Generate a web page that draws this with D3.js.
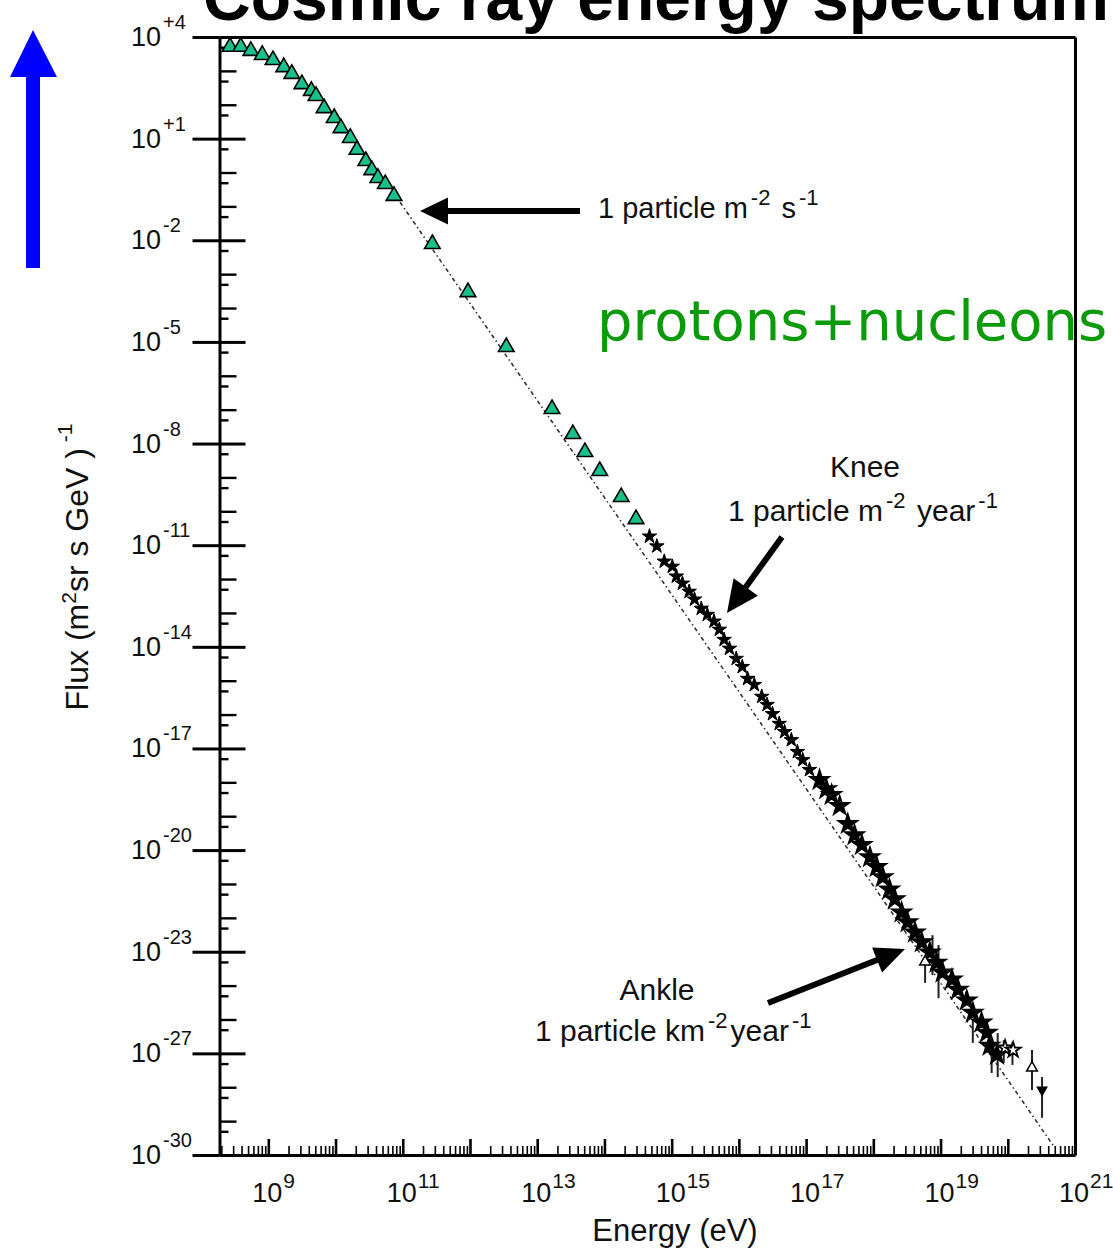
<!DOCTYPE html>
<html>
<head>
<meta charset="utf-8">
<title>Cosmic ray energy spectrum</title>
<script src="https://cdn.jsdelivr.net/npm/d3@7"></script>
<style>
  body { margin: 0; background: #fff; }
  svg { display: block; }
  text { font-family: "Liberation Sans", Arial, sans-serif; fill: #111; }
</style>
</head>
<body>
<div id="chart"></div>
<script>
// all values are log10: energy in eV, flux in (m^2 sr s GeV)^-1

// direct measurements (green triangles)
var triLogE = [8.43, 8.59, 8.74, 8.91, 9.07, 9.23, 9.35, 9.50, 9.64, 9.71,
               9.83, 9.98, 10.08, 10.22, 10.32, 10.45, 10.54, 10.63, 10.74, 10.87,
               11.44, 11.97, 12.54, 13.22, 13.53, 13.71, 13.93, 14.25, 14.47];
var triLogFlux = [3.71, 3.71, 3.59, 3.47, 3.32, 3.11, 2.91, 2.61, 2.41, 2.26,
                  1.90, 1.61, 1.31, 1.02, 0.67, 0.34, 0.07, -0.16, -0.34, -0.69,
                  -2.11, -3.53, -5.15, -6.98, -7.72, -8.25, -8.81, -9.58, -10.23];

// air shower data (black stars)
var starLogE = [14.67, 14.78, 14.89, 15.01, 15.07, 15.16, 15.26, 15.34, 15.44, 15.53,
                15.63, 15.71, 15.78, 15.86, 15.96, 16.05, 16.13, 16.23, 16.34, 16.42,
                16.50, 16.60, 16.68, 16.78, 16.87, 16.95, 17.05, 17.20, 17.30, 17.38,
                17.50, 17.62, 17.72, 17.83, 17.95, 18.05, 18.14, 18.24, 18.32, 18.42,
                18.51, 18.62, 18.72, 18.84, 18.94, 19.03, 19.17, 19.26, 19.39, 19.48,
                19.61, 19.69, 19.73, 19.84];
var starLogFlux = [-10.74, -11.03, -11.48, -11.63, -11.92, -12.13, -12.37, -12.60, -12.87, -13.05,
                   -13.25, -13.49, -13.79, -14.05, -14.35, -14.59, -14.94, -15.12, -15.47, -15.71,
                   -15.98, -16.27, -16.51, -16.75, -17.10, -17.34, -17.63, -17.93, -18.20, -18.37,
                   -18.70, -19.23, -19.56, -19.85, -20.21, -20.50, -20.80, -21.16, -21.45, -21.84,
                   -22.13, -22.43, -22.72, -23.02, -23.32, -23.61, -23.82, -24.12, -24.44, -24.80,
                   -25.09, -25.39, -25.77, -26.04];

var openStarLogE = [19.96, 20.08];
var openStarLogFlux = [-25.84, -25.90];
var openTriLogE = [18.77, 20.36];
var openTriLogFlux = [-23.30, -26.43];
var downTriLogE = [20.51];
var downTriLogFlux = [-27.08];

var errLogE = [18.77, 18.88, 18.97, 19.48, 19.76, 19.85, 19.94, 20.07, 20.36, 20.51];
var errHi = [-23.30, -22.51, -22.80, -25.02, -25.69, -25.40, -25.61, -25.66, -25.90, -26.70];
var errLo = [-23.92, -23.69, -24.37, -25.69, -26.58, -26.70, -26.28, -26.34, -27.08, -27.90];

// dotted power law
var fitLogE = [10.96, 20.70];
var fitLogFlux = [-0.88, -28.79];

// axis ticks
var xLabelDecades = [9, 11, 13, 15, 17, 19, 21];
var xLabels = ["9", "11", "13", "15", "17", "19", "21"];
var yMajor = [4, 1, -2, -5, -8, -11, -14, -17, -20, -23, -26, -29];
var yLabels = ["+4", "+1", "-2", "-5", "-8", "-11", "-14", "-17", "-20", "-23", "-27", "-30"];


var svg = d3.select("#chart").append("svg")
    .attr("width", 1113)
    .attr("height", 1251);

var x = d3.scaleLinear().domain([8.274, 21]).range([219.5, 1075]);
var y = d3.scaleLinear().domain([4, -29]).range([37, 1155]);

// title, cut by the top of the slide
svg.append("text")
    .attr("x", 203).attr("y", 20)
    .style("font-weight", "bold").style("font-size", "66px").style("fill", "#000")
    .text("Cosmic ray energy spectrum");

// big blue arrow on the left
svg.append("path")
    .attr("d", "M26,268L40,268L40,77L57,77L33,30L10,77L26,77Z")
    .attr("fill", "#0000ff");

// ---- axes ----
var xMajor = d3.range(9, 22);
var xMinor = [];
d3.range(8, 21).forEach(function(d) {
    for (var k = 2; k <= 9; k++) {
        var v = d + Math.log10(k);
        if (v > 8.274 && v < 21) xMinor.push(v);
    }
});
var yDecade = d3.range(-29, 5).filter(function(d) { return yMajor.indexOf(d) < 0; });
var yHalf = d3.range(-28, 5).map(function(d) { return d + Math.log10(5) - 1; });

var styleAxis = function(g, w, keepDomain) {
    g.selectAll("line").attr("stroke", "#000").attr("stroke-width", w);
    g.selectAll("text").remove();
    if (keepDomain) g.select(".domain").attr("stroke", "#000").attr("stroke-width", 3);
    else g.select(".domain").remove();
};

var gx = svg.append("g").attr("transform", "translate(0,1155)");
gx.append("g")
    .call(d3.axisBottom(x).tickValues(xMinor).tickSize(-9).tickSizeOuter(0))
    .call(styleAxis, 1.6, false);
gx.append("g")
    .call(d3.axisBottom(x).tickValues(xMajor).tickSize(-16).tickSizeOuter(0))
    .call(styleAxis, 2.6, true);

var gy = svg.append("g").attr("transform", "translate(219.5,0)");
gy.append("g")
    .call(d3.axisRight(y).tickValues(yHalf).tickSize(9).tickSizeOuter(0))
    .call(styleAxis, 2.4, false);
gy.append("g")
    .call(d3.axisRight(y).tickValues(yDecade).tickSize(17).tickSizeOuter(0))
    .call(styleAxis, 2.4, false);
gy.append("g")
    .call(d3.axisRight(y).tickValues(yMajor).tickSize(26).tickSizeOuter(0))
    .call(styleAxis, 3, false);
gy.append("g")
    .call(d3.axisLeft(y).tickValues(yMajor).tickSize(27).tickSizeOuter(0))
    .call(styleAxis, 3, true);

// top and right frame
svg.append("g").attr("transform", "translate(0,37)")
    .call(d3.axisTop(x).tickValues([]).tickSizeOuter(0))
    .call(styleAxis, 1, true);
svg.append("g").attr("transform", "translate(1075,0)")
    .call(d3.axisRight(y).tickValues([]).tickSizeOuter(0))
    .call(styleAxis, 1, true);

// tick labels with superscripts
yMajor.forEach(function(v, i) {
    var t = svg.append("text").attr("x", 131).attr("y", y(v) + 9).style("font-size", "27px");
    t.append("tspan").text("10");
    t.append("tspan").attr("dx", 2).attr("dy", -17).style("font-size", "20px").text(yLabels[i]);
});
xLabelDecades.forEach(function(v, i) {
    var t = svg.append("text").attr("x", x(v) - 16).attr("y", 1202).style("font-size", "27px");
    t.append("tspan").text("10");
    t.append("tspan").attr("dx", 1).attr("dy", -14).style("font-size", "21px").text(xLabels[i]);
});

// axis titles
var yt = svg.append("text")
    .attr("transform", "translate(88,567) rotate(-90)")
    .attr("text-anchor", "middle")
    .style("font-size", "32px");
yt.append("tspan").text("Flux (m");
yt.append("tspan").attr("dy", -12).style("font-size", "21px").text("2");
yt.append("tspan").attr("dy", 12).text("sr s GeV )");
yt.append("tspan").attr("dy", -16).style("font-size", "21px").text(" -1");

svg.append("text")
    .attr("x", 675).attr("y", 1241)
    .attr("text-anchor", "middle")
    .style("font-size", "31px")
    .text("Energy (eV)");

// ---- data ----
var pairs = function(es, fs) {
    return es.map(function(e, i) { return {e: e, f: fs[i]}; });
};
var at = function(d) { return "translate(" + x(d.e) + "," + y(d.f) + ")"; };

var line = d3.line().x(function(d) { return x(d.e); }).y(function(d) { return y(d.f); });
svg.append("path")
    .datum(pairs(fitLogE, fitLogFlux))
    .attr("d", line)
    .attr("fill", "none")
    .attr("stroke", "#333")
    .attr("stroke-width", 1.6)
    .attr("stroke-dasharray", "4,3,1.5,3");

svg.selectAll(".err")
    .data(errLogE.map(function(e, i) { return {e: e, hi: errHi[i], lo: errLo[i]}; }))
    .enter()
    .append("line")
    .attr("class", "err")
    .attr("x1", function(d) { return x(d.e); })
    .attr("x2", function(d) { return x(d.e); })
    .attr("y1", function(d) { return y(d.hi); })
    .attr("y2", function(d) { return y(d.lo); })
    .attr("stroke", "#222")
    .attr("stroke-width", 2);

svg.selectAll(".star")
    .data(pairs(starLogE, starLogFlux))
    .enter()
    .append("path")
    .attr("class", "star")
    .attr("transform", at)
    .attr("d", function(d) { return d3.symbol().type(d3.symbolStar).size(d.e > 17.1 ? 85 : 65)(); })
    .attr("fill", "#000")
    .attr("stroke", "#000")
    .attr("stroke-width", function(d) { return d.e > 17.1 ? 2.5 : 1; });

svg.selectAll(".ostar")
    .data(pairs(openStarLogE, openStarLogFlux))
    .enter()
    .append("path")
    .attr("class", "ostar")
    .attr("transform", at)
    .attr("d", d3.symbol().type(d3.symbolStar).size(70))
    .attr("fill", "#fff")
    .attr("stroke", "#000")
    .attr("stroke-width", 1.8);

svg.selectAll(".otri")
    .data(pairs(openTriLogE, openTriLogFlux))
    .enter()
    .append("path")
    .attr("class", "otri")
    .attr("transform", at)
    .attr("d", d3.symbol().type(d3.symbolTriangle).size(50))
    .attr("fill", "#fff")
    .attr("stroke", "#000")
    .attr("stroke-width", 1.5);

svg.selectAll(".dtri")
    .data(pairs(downTriLogE, downTriLogFlux))
    .enter()
    .append("path")
    .attr("class", "dtri")
    .attr("transform", function(d) { return at(d) + " rotate(180)"; })
    .attr("d", d3.symbol().type(d3.symbolTriangle).size(60))
    .attr("fill", "#000");

svg.selectAll(".tri")
    .data(pairs(triLogE, triLogFlux))
    .enter()
    .append("path")
    .attr("class", "tri")
    .attr("transform", at)
    .attr("d", d3.symbol().type(d3.symbolTriangle).size(105))
    .attr("fill", "#19c08c")
    .attr("stroke", "#000")
    .attr("stroke-width", 1.6);

// ---- annotations ----
var arrow = function(from, to, headLen, headW) {
    var x0 = x(from[0]), y0 = y(from[1]), x1 = x(to[0]), y1 = y(to[1]);
    var len = Math.hypot(x1 - x0, y1 - y0);
    var ux = (x1 - x0) / len, uy = (y1 - y0) / len;
    var bx = x1 - ux * headLen, by = y1 - uy * headLen;
    svg.append("line")
        .attr("x1", x0).attr("y1", y0).attr("x2", bx + ux * 2).attr("y2", by + uy * 2)
        .attr("stroke", "#000").attr("stroke-width", 6);
    svg.append("path")
        .attr("d", "M" + x1 + "," + y1 +
            "L" + (bx - uy * headW / 2) + "," + (by + ux * headW / 2) +
            "L" + (bx + uy * headW / 2) + "," + (by - ux * headW / 2) + "Z")
        .attr("fill", "#000");
};

// parts: [text, isSuperscript]
var note = function(pos, anchor, size, parts) {
    var t = svg.append("text")
        .attr("x", x(pos[0])).attr("y", y(pos[1]))
        .attr("text-anchor", anchor)
        .style("font-size", size + "px");
    var up = false;
    parts.forEach(function(p) {
        var s = t.append("tspan").text(p[0]);
        if (p[1]) {
            s.attr("dx", 3).style("font-size", "22px");
            if (!up) s.attr("dy", -13);
            up = true;
        } else if (up) {
            s.attr("dx", 3).attr("dy", 13);
            up = false;
        }
    });
};

arrow([13.637, -1.136], [11.257, -1.136], 28, 27);
note([13.904, -1.343], "start", 29, [["1 particle m", 0], ["-2", 1], [" s", 0], ["-1", 1]]);

arrow([16.641, -10.758], [15.823, -13.002], 32, 30);
note([17.876, -8.987], "middle", 30, [["Knee", 0]]);
note([15.838, -10.286], "start", 30, [["1 particle m", 0], ["-2", 1], [" year", 0], ["-1", 1]]);

arrow([16.433, -24.513], [18.471, -22.919], 30, 27);
note([14.782, -24.425], "middle", 30, [["Ankle", 0]]);
note([12.967, -25.634], "start", 30, [["1 particle km", 0], ["-2", 1], ["year", 0], ["-1", 1]]);

svg.append("text")
    .attr("x", x(13.889)).attr("y", y(-4.944))
    .style("font-family", "'DejaVu Sans', Verdana, sans-serif")
    .style("font-size", "56px")
    .style("fill", "#0a9a0a")
    .text("protons+nucleons");
</script>
</body>
</html>
